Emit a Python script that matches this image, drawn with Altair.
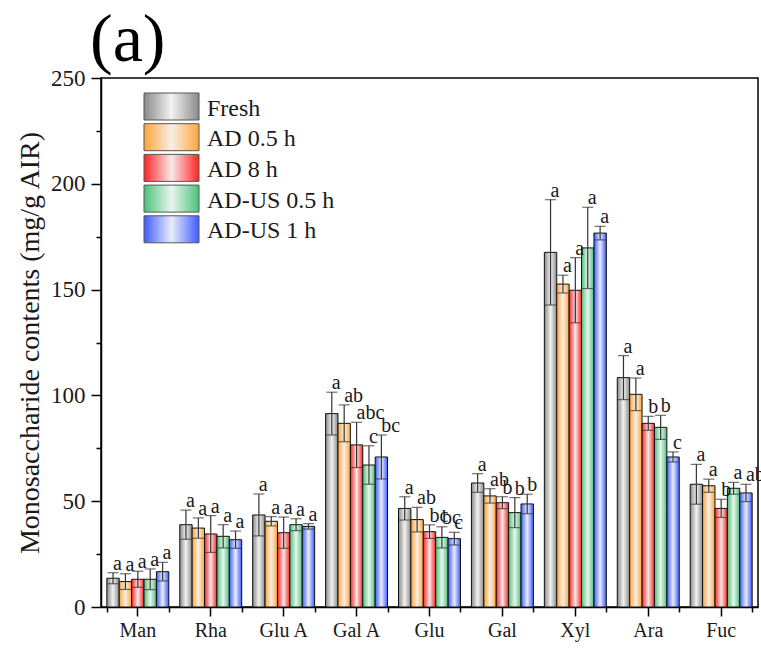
import altair as alt
import pandas as pd

categories = ["Man", "Rha", "Glu A", "Gal A", "Glu", "Gal", "Xyl", "Ara", "Fuc"]
series = ["Fresh", "AD 0.5 h", "AD 8 h", "AD-US 0.5 h", "AD-US 1 h"]

mean_fresh = [13.6, 38.9, 43.5, 91.4, 46.6, 58.6, 167.6, 108.4, 58.0]
mean_ad05 = [12.0, 37.3, 40.5, 86.8, 41.3, 52.5, 152.6, 100.5, 57.3]
mean_ad8 = [13.1, 34.5, 35.1, 76.6, 35.6, 49.3, 149.7, 86.8, 46.6]
mean_adus05 = [13.1, 33.4, 38.9, 67.1, 32.9, 44.6, 169.7, 84.9, 56.1]
mean_adus1 = [16.7, 31.8, 38.1, 70.9, 32.3, 48.7, 176.7, 70.9, 53.9]

sd_fresh = [2.6, 6.9, 9.9, 10.1, 5.5, 4.4, 24.9, 10.4, 9.4]
sd_ad05 = [3.7, 4.8, 2.2, 8.7, 5.8, 3.4, 4.2, 7.7, 3.1]
sd_ad8 = [3.8, 8.7, 7.4, 10.7, 3.2, 2.8, 15.4, 3.3, 4.3]
sd_adus05 = [4.9, 5.5, 2.8, 9.1, 5.0, 7.1, 19.2, 5.7, 2.8]
sd_adus1 = [4.4, 4.1, 1.3, 10.4, 3.0, 4.6, 3.2, 2.4, 4.1]

let_fresh = ["a", "a", "a", "a", "a", "a", "a", "a", "a"]
let_ad05 = ["a", "a", "a", "ab", "ab", "ab", "a", "a", "a"]
let_ad8 = ["a", "a", "a", "abc", "bc", "b", "a", "b", "b"]
let_adus05 = ["a", "a", "a", "c", "bc", "b", "a", "b", "a"]
let_adus1 = ["a", "a", "a", "bc", "c", "b", "a", "c", "ab"]

means = [mean_fresh, mean_ad05, mean_ad8, mean_adus05, mean_adus1]
sds = [sd_fresh, sd_ad05, sd_ad8, sd_adus05, sd_adus1]
letters = [let_fresh, let_ad05, let_ad8, let_adus05, let_adus1]

edge_colors = ["#8a8a8a", "#ffa53c", "#ff2424", "#4cc27a", "#3f5cff"]
center_colors = ["#f2f2f2", "#f7efe6", "#f7eaea", "#eaf5ee", "#eaedfc"]

rows = []
for si, s in enumerate(series):
    for ci, c in enumerate(categories):
        m = means[si][ci]
        d = sds[si][ci]
        rows.append({"cat": c, "series": s, "mean": m, "lo": m - d, "hi": m + d,
                     "letter": letters[si][ci]})
df = pd.DataFrame(rows)

FONT = "Liberation Serif"
INK = "#1a1a1a"


def grad(i):
    return alt.Gradient(
        gradient="linear", x1=0, x2=1, y1=0, y2=0,
        stops=[alt.GradientStop(color=edge_colors[i], offset=0),
               alt.GradientStop(color=center_colors[i], offset=0.5),
               alt.GradientStop(color=edge_colors[i], offset=1)])


x_scale = alt.Scale(domain=categories, paddingInner=0.15, paddingOuter=0.08)
x_main = alt.X("cat:N", sort=categories, scale=x_scale,
               axis=alt.Axis(title=None, orient="bottom", labelFont=FONT, labelFontSize=20,
                             labelColor=INK, labelAngle=0, tickSize=9, tickColor="#000",
                             tickWidth=1.5, domainColor="#000", domainWidth=1.5,
                             labelPadding=4))
x_minor = alt.X("cat:N", sort=categories, scale=x_scale,
                axis=alt.Axis(title=None, orient="bottom", labels=False, tickBand="extent",
                              tickSize=5, tickColor="#000", tickWidth=1.5, domain=False))
xoff = alt.XOffset("series:N", sort=series,
                   scale=alt.Scale(domain=series, paddingInner=0, paddingOuter=0))

y_axis = alt.Axis(title="Monosaccharide contents (mg/g AIR)", titleFont=FONT,
                  titleFontSize=28, titleFontWeight="normal", titleColor=INK,
                  titlePadding=6, values=list(range(0, 251, 25)),
                  labelExpr="datum.value % 50 == 0 ? datum.label : ''",
                  labelFont=FONT, labelFontSize=23, labelColor=INK, labelPadding=6,
                  tickSize={"condition": {"test": "datum.value % 50 == 0", "value": 10}, "value": 5},
                  tickColor="#000", tickWidth=1.5, domainColor="#000", domainWidth=1.5,
                  grid=False)
y_scale = alt.Scale(domain=[0, 250], nice=False)

base = alt.Chart(df)

layers = []
for i, s in enumerate(series):
    layers.append(
        base.transform_filter(alt.datum.series == s)
        .mark_bar(fill=grad(i), stroke="#111111", strokeWidth=1)
        .encode(x=x_main, xOffset=xoff,
                y=alt.Y("mean:Q", scale=y_scale, axis=y_axis))
    )

err_rule = base.mark_rule(color="#333333", strokeWidth=1.2).encode(
    x=x_main, xOffset=xoff,
    y=alt.Y("lo:Q", scale=y_scale, axis=y_axis), y2="hi:Q")
cap_hi = base.mark_tick(color="#333333", thickness=1.2, size=11).encode(
    x=x_main, xOffset=xoff, y=alt.Y("hi:Q", scale=y_scale, axis=y_axis))
cap_lo = base.mark_tick(color="#333333", thickness=1.2, size=11).encode(
    x=x_main, xOffset=xoff, y=alt.Y("lo:Q", scale=y_scale, axis=y_axis))
labels = base.mark_text(font=FONT, fontSize=20, color=INK, align="left",
                        baseline="alphabetic", dy=-3).encode(
    x=x_main, xOffset=xoff, y=alt.Y("hi:Q", scale=y_scale, axis=y_axis),
    text="letter:N")

layers += [err_rule, cap_lo, cap_hi, labels]

# legend (manual, because of the gradient fills)
leg_df = pd.DataFrame({"series": series})
step = 30.7
for i, s in enumerate(series):
    top = 15 + i * step
    one = alt.Chart(leg_df).transform_filter(alt.datum.series == s)
    layers.append(one.mark_rect(fill=grad(i), stroke="#555555", strokeWidth=1).encode(
        x=alt.value(43), x2=alt.value(98), y=alt.value(top), y2=alt.value(top + 27)))
    layers.append(one.mark_text(font=FONT, fontSize=24, color=INK, align="left",
                                baseline="alphabetic").encode(
        x=alt.value(106), y=alt.value(top + 22.5), text="series:N"))

panel = alt.Chart(pd.DataFrame({"t": ["(a)"]})).mark_text(
    font=FONT, fontSize=68, color="#000", align="left", baseline="alphabetic").encode(
    x=alt.value(-11), y=alt.value(-17), text="t:N")
layers.append(panel)

main = alt.layer(*layers)

minor = base.mark_point(opacity=0).encode(
    x=x_minor, y=alt.Y("mean:Q", scale=y_scale, axis=y_axis))

chart = alt.layer(main, minor).resolve_axis(x="independent").properties(
    width=657, height=529,
    autosize=alt.AutoSizeParams(type="none"),
    padding={"left": 101, "top": 78, "right": 3, "bottom": 47},
    background="white",
).configure_view(stroke="#000000", strokeWidth=1.5)

chart.save("out.html", embed_options={"renderer": "svg", "actions": False})
